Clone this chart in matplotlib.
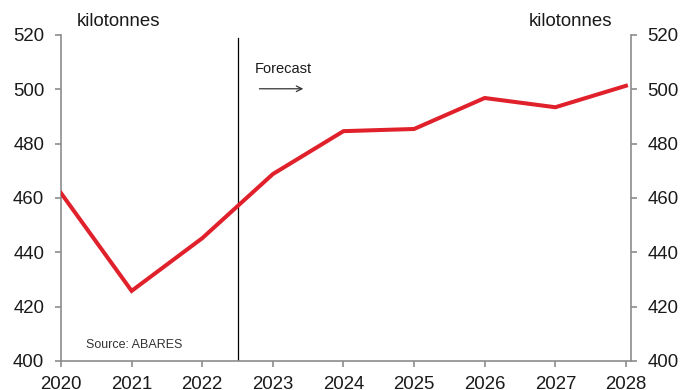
import matplotlib.pyplot as plt

plt.rcParams['font.family'] = ['Liberation Sans', 'DejaVu Sans']

# data
years = [2020, 2021, 2022, 2023, 2024, 2025, 2026, 2027, 2028]
production = [461.8, 425.8, 445.2, 468.8, 484.6, 485.4, 496.8, 493.4, 501.3]
forecast_start = 2022.5
y_ticks = [400, 420, 440, 460, 480, 500, 520]

fig = plt.figure(figsize=(6.91, 3.90), dpi=100)
ax = fig.add_axes([0.0883, 0.0744, 0.8247, 0.8359])

ax.plot(years, production, color='#E0212B', lw=2.9, solid_joinstyle='miter', zorder=3)
ax.axvline(forecast_start, ymax=0.99, color='black', lw=0.9)

ax.set_xlim(2020, 2028.07)
ax.set_ylim(400, 520)
ax.set_xticks(years)
ax.set_yticks(y_ticks)

spine_col = '#8C8C8C'
ax.spines['top'].set_visible(False)
for side in ['left', 'right', 'bottom']:
    ax.spines[side].set_color(spine_col)
    ax.spines[side].set_linewidth(1.2)

ax.tick_params(axis='both', colors=spine_col, labelcolor='#1a1a1a', labelsize=13.4,
               length=4, width=1.2)
ax.tick_params(axis='y', left=True, right=True, labelleft=True, labelright=True, pad=8)
ax.tick_params(axis='x', pad=7)

ax.text(0.027, 1.015, 'kilotonnes', transform=ax.transAxes, fontsize=13.4,
        color='#1a1a1a', ha='left', va='bottom')
ax.text(0.968, 1.015, 'kilotonnes', transform=ax.transAxes, fontsize=13.4,
        color='#1a1a1a', ha='right', va='bottom')

ax.text(2020.35, 406, 'Source: ABARES', fontsize=9, color='#333333', va='center')
ax.text(2022.75, 507.5, 'Forecast', fontsize=10.5, color='#1a1a1a', va='center')
ax.annotate('', xy=(2023.47, 500.2), xytext=(2022.77, 500.2),
            arrowprops=dict(arrowstyle='->', color='#333333', lw=0.9))

fig.savefig('out.png', dpi=100)
